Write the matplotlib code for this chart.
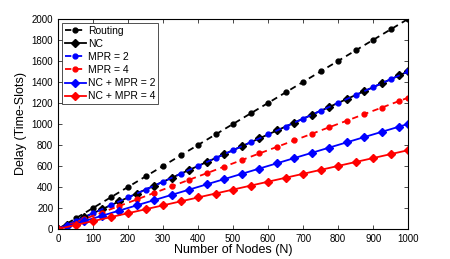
import matplotlib
matplotlib.use("Agg")
import matplotlib.pyplot as plt

plt.rcParams['font.family'] = ['Liberation Sans', 'DejaVu Sans']

# node counts where markers sit
x_even = [0, 50, 100, 150, 200, 250, 300, 350, 400, 450, 500,
          550, 600, 650, 700, 750, 800, 850, 900, 950, 1000]
x_odd = [0, 25, 75, 125, 175, 225, 275, 325, 375, 425, 475,
         525, 575, 625, 675, 725, 775, 825, 875, 925, 975, 1000]

routing = [0, 100, 200, 300, 400, 500, 600, 700, 800, 900, 1000,
           1100, 1200, 1300, 1400, 1500, 1600, 1700, 1800, 1900, 2000]
nc = [0, 37.5, 112.5, 187.5, 262.5, 337.5, 412.5, 487.5, 562.5, 637.5, 712.5,
      787.5, 862.5, 937.5, 1012.5, 1087.5, 1162.5, 1237.5, 1312.5, 1387.5, 1462.5, 1500]
mpr2 = [0, 75, 150, 225, 300, 375, 450, 525, 600, 675, 750,
        825, 900, 975, 1050, 1125, 1200, 1275, 1350, 1425, 1500]
mpr4 = [0, 31, 94, 156, 219, 281, 344, 406, 469, 531, 594,
        656, 719, 781, 844, 906, 969, 1031, 1094, 1156, 1219, 1250]
nc_mpr2 = [0, 25, 75, 125, 175, 225, 275, 325, 375, 425, 475,
           525, 575, 625, 675, 725, 775, 825, 875, 925, 975, 1000]
nc_mpr4 = [0, 37.5, 75, 112.5, 150, 187.5, 225, 262.5, 300, 337.5, 375,
           412.5, 450, 487.5, 525, 562.5, 600, 637.5, 675, 712.5, 750]

fig = plt.figure(figsize=(4.5, 2.59), dpi=100)
ax = fig.add_axes([0.129, 0.116, 0.778, 0.811])

lw = 1.3
dash = (0, (3.5, 2.5))
ax.plot(x_even, routing, 'o', ls=dash, color='black', lw=lw, ms=3.5, label='Routing')
ax.plot(x_odd, nc, '-D', color='black', lw=lw, ms=4, label='NC')
ax.plot(x_even, mpr2, 'o', ls=dash, color='blue', lw=lw, ms=3.5, label='MPR = 2')
ax.plot(x_odd, mpr4, 'o', ls=dash, color='red', lw=lw, ms=3.5, label='MPR = 4')
ax.plot(x_odd, nc_mpr2, '-D', color='blue', lw=lw, ms=4, label='NC + MPR = 2')
ax.plot(x_even, nc_mpr4, '-D', color='red', lw=lw, ms=4, label='NC + MPR = 4')

ax.set_xlim(0, 1000)
ax.set_ylim(0, 2000)
ax.set_xticks(range(0, 1001, 100))
ax.set_yticks(range(0, 2001, 200))
ax.tick_params(direction='in', top=True, right=True, labelsize=7, length=3, width=0.5)
for s in ax.spines.values():
    s.set_linewidth(0.8)

ax.set_xlabel('Number of Nodes (N)', fontsize=9, labelpad=0)
ax.set_ylabel('Delay (Time-Slots)', fontsize=9, labelpad=3)

leg = ax.legend(loc='upper left', fontsize=7.5, frameon=True, fancybox=False,
                edgecolor='black', handlelength=2.0, handletextpad=0.2,
                labelspacing=0.3, borderpad=0.3, borderaxespad=0.35)
leg.get_frame().set_linewidth(0.6)

fig.savefig('out.png', dpi=100)
